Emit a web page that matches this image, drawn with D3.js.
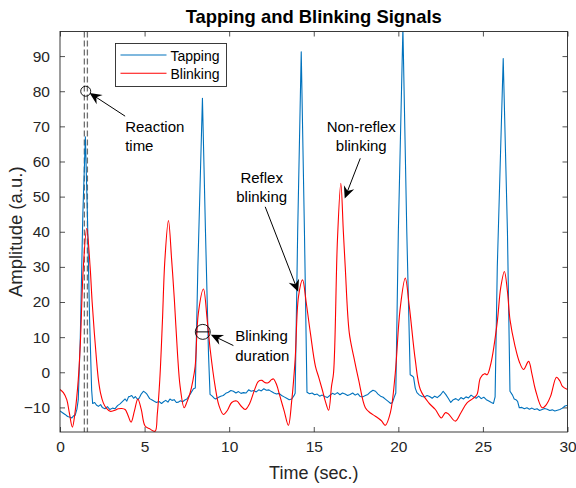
<!DOCTYPE html>
<html>
<head>
<meta charset="utf-8">
<script src="https://d3js.org/d3.v7.min.js"></script>
<style>
  body { margin: 0; background: #fff; }
  text { font-family: "Liberation Sans", Arial, Helvetica, sans-serif; }
</style>
</head>
<body>
<svg id="chart" width="576" height="488"></svg>
<script>
// Tapping signal (time in sec, amplitude in a.u.)
const tapping = [
  [0.0,-11.0],[0.15,-11.5],[0.3,-12.0],[0.45,-12.6],[0.6,-12.8],[0.7,-13.0],[0.8,-12.4],[0.9,-12.2],
  [1.0,-10.5],[1.08,-7.8],[1.2,10],[1.35,45],[1.5,67],[1.62,45],[1.75,15],[1.87,-5],[1.93,-8.9],
  [2.05,-8.6],[2.15,-9.3],[2.27,-9.7],[2.4,-9.2],[2.5,-10.0],[2.66,-10.4],[2.8,-9.8],[2.95,-10.6],
  [3.1,-10.2],[3.25,-10.4],[3.4,-9.5],[3.55,-9.0],[3.7,-8.3],[3.85,-7.6],[3.95,-8.2],[4.05,-7.0],
  [4.15,-6.8],[4.24,-6.6],[4.35,-7.4],[4.45,-6.9],[4.6,-7.8],[4.7,-7.2],[4.8,-6.2],[4.93,-5.4],
  [5.05,-5.8],[5.15,-6.3],[5.3,-7.5],[5.42,-7.8],[5.55,-8.2],[5.7,-8.6],[5.85,-8.3],[6.0,-8.9],
  [6.12,-8.4],[6.25,-8.0],[6.38,-8.5],[6.5,-7.6],[6.62,-8.0],[6.75,-7.8],[6.88,-8.6],[7.0,-8.5],
  [7.12,-8.1],[7.25,-8.4],[7.38,-7.9],[7.5,-7.6],[7.62,-6.8],[7.75,-5.8],[7.89,-4.7],[8.0,-4.5],
  [8.15,30],[8.42,78],[8.6,40],[8.78,5],[8.87,-6.3],[9.0,-6.8],[9.1,-7.3],[9.2,-7.6],[9.35,-7.2],
  [9.5,-6.8],[9.65,-6.6],[9.8,-6.0],[9.95,-5.7],[10.1,-5.2],[10.25,-5.4],[10.4,-5.9],[10.55,-5.5],
  [10.7,-6.0],[10.85,-5.8],[11.0,-5.9],[11.15,-5.0],[11.3,-5.4],[11.45,-5.2],[11.6,-5.6],[11.75,-5.0],
  [11.9,-5.3],[12.05,-4.7],[12.2,-5.1],[12.35,-5.0],[12.5,-5.5],[12.65,-5.9],[12.8,-6.2],[12.95,-6.0],
  [13.1,-6.6],[13.25,-7.0],[13.4,-7.4],[13.55,-7.8],[13.7,-7.6],[13.85,-6.5],[13.9,-6.0],[14.05,40],
  [14.26,91.2],[14.45,40],[14.6,-5.7],[14.75,-6.1],[14.9,-5.9],[15.05,-6.4],[15.2,-6.2],[15.35,-6.8],
  [15.5,-6.5],[15.65,-6.9],[15.8,-7.2],[15.95,-6.6],[16.1,-6.0],[16.25,-6.3],[16.4,-5.8],[16.55,-6.4],
  [16.7,-5.9],[16.85,-6.2],[17.0,-6.6],[17.15,-6.3],[17.3,-5.9],[17.45,-6.5],[17.6,-6.1],[17.75,-6.9],
  [17.9,-7.0],[18.05,-6.6],[18.2,-6.3],[18.35,-5.6],[18.5,-5.1],[18.65,-5.4],[18.8,-6.2],[18.95,-6.8],
  [19.1,-7.1],[19.25,-7.7],[19.4,-8.3],[19.55,-8.9],[19.65,-8.6],[19.75,-7.2],[19.85,-5.9],[20.0,40],
  [20.27,98],[20.5,40],[20.7,-0.7],[20.8,-1.0],[20.9,-1.4],[21.0,-4.5],[21.1,-5.8],[21.25,-6.5],
  [21.4,-6.9],[21.55,-7.0],[21.7,-6.6],[21.85,-6.9],[22.0,-7.4],[22.15,-6.8],[22.3,-7.2],[22.5,-6.4],
  [22.65,-5.4],[22.8,-6.3],[22.95,-7.4],[23.1,-8.6],[23.25,-7.8],[23.4,-7.5],[23.55,-8.0],[23.7,-7.2],
  [23.85,-7.6],[24.0,-7.0],[24.15,-7.3],[24.3,-6.5],[24.45,-7.0],[24.6,-7.4],[24.75,-6.8],[24.9,-7.5],
  [25.05,-7.1],[25.2,-7.8],[25.35,-8.2],[25.5,-8.6],[25.62,-8.9],[25.72,-7.0],[25.85,30],[26.2,89.3],
  [26.45,40],[26.6,-5.4],[26.75,-6.5],[26.85,-7.6],[26.95,-7.8],[27.05,-8.3],[27.15,-10.1],[27.3,-10.0],
  [27.45,-10.4],[27.6,-10.1],[27.75,-10.5],[27.9,-10.2],[28.05,-10.6],[28.2,-10.4],[28.35,-10.9],
  [28.5,-10.6],[28.65,-10.3],[28.8,-10.5],[28.95,-10.9],[29.1,-10.7],[29.25,-11.0],[29.4,-10.8],
  [29.55,-10.6],[29.7,-10.2],[29.85,-9.6],[30.0,-9.4]
];

// Blinking signal
const blinking = [
  [0.0,-4.9],[0.2,-5.8],[0.4,-7.8],[0.55,-11.5],[0.73,-15.6],[0.9,-11],[1.08,-2.1],[1.2,8],[1.38,30],
  [1.58,41],[1.78,30],[1.9,20],[2.03,11.2],[2.15,4],[2.27,-2.1],[2.4,-6],[2.56,-8.7],[2.75,-10.3],
  [2.96,-11.1],[3.2,-10.9],[3.45,-10.4],[3.65,-10.3],[3.85,-10.6],[4.0,-12],[4.2,-14.2],[4.4,-11],
  [4.6,-7.6],[4.8,-10.5],[5.03,-15.3],[5.3,-16.1],[5.62,-16.8],[5.75,-12],[5.9,-2],[6.05,14],[6.2,32],
  [6.41,43.2],[6.6,32],[6.76,20.7],[6.95,5],[7.1,-4],[7.34,-10.1],[7.5,-8.5],[7.69,-5.9],[7.85,-2.5],
  [7.99,1.7],[8.18,16.9],[8.48,23.7],[8.7,15],[8.88,6.4],[9.17,-4],[9.4,-9.5],[9.66,-12],[9.9,-10.8],
  [10.15,-8.6],[10.45,-8.2],[10.7,-9.6],[10.95,-10.6],[11.2,-9],[11.5,-5],[11.73,-2.6],[11.93,-2.3],
  [12.1,-2.9],[12.3,-3.0],[12.5,-2.1],[12.62,-1.9],[12.8,-3.5],[13.0,-6.8],[13.25,-11],[13.5,-15.1],
  [13.7,-8],[13.9,3.6],[14.1,21.6],[14.34,26.3],[14.55,20],[14.8,11.2],[15.1,1.7],[15.3,-1.5],
  [15.5,-4.9],[15.7,-8.5],[15.88,-10.8],[16.05,-4],[16.17,-0.2],[16.4,37.6],[16.6,53.8],[16.75,40],
  [16.86,30.1],[17.1,11.2],[17.36,4.5],[17.65,-2.1],[18.05,-10.1],[18.35,-11.6],[18.64,-12.5],
  [19.0,-13.8],[19.23,-15.1],[19.53,-11.5],[19.82,-0.2],[20.1,17.8],[20.41,26.8],[20.65,18.7],
  [21.0,3.6],[21.3,-4.9],[21.8,-8.7],[22.19,-10.6],[22.54,-13],[22.78,-11.5],[22.95,-11.8],
  [23.37,-13.9],[23.7,-11.5],[24.06,-8.7],[24.4,-7.5],[24.65,-6.3],[24.85,-1.6],[25.1,-0.4],
  [25.25,-0.7],[25.48,2.7],[25.84,14],[26.05,24],[26.27,28.7],[26.45,23],[26.6,15],[26.9,7.4],
  [27.15,3],[27.4,0.8],[27.7,3.1],[27.9,-0.5],[28.1,-4.9],[28.5,-10.1],[28.75,-9.2],[29.0,-6.8],
  [29.35,-1.4],[29.55,-2.5],[29.7,-4.0],[30.0,-4.9]
];

const xTicks = [0, 5, 10, 15, 20, 25, 30];
const yTicks = [-10, 0, 10, 20, 30, 40, 50, 60, 70, 80, 90];
const seriesNames = ["Tapping", "Blinking"];

// reaction-time markers (sec)
const reactionLines = [1.44, 1.62];

// annotations: text lines, text anchor point, arrow tail -> tip (data units)
const notes = [
  { lines: ["Reaction", "time"], at: [3.85, 68.5], anchor: "start", tail: [3.85, 72.9], tip: [1.75, 79.5] },
  { lines: ["Reflex", "blinking"], at: [11.92, 53.9], anchor: "middle", tail: [12.13, 47.1], tip: [14.08, 22.9] },
  { lines: ["Non-reflex", "blinking"], at: [17.81, 68.5], anchor: "middle", tail: [17.75, 60.9], tip: [16.83, 49.5] },
  { lines: ["Blinking", "duration"], at: [10.36, 8.8], anchor: "start", tail: [10.25, 7.6], tip: [8.92, 10.7] }
];
const reactionCircle = [1.52, 80];
const durationCircle = [8.44, 11.5];
const durationSpan = [8.05, 8.85];

const svg = d3.select("#chart");
const W = 576, H = 488;
const pad = { left: 60, right: 567.5, top: 31.5, bottom: 432 };

const x = d3.scaleLinear().domain([0, 30]).range([pad.left, pad.right]);
const y = d3.scaleLinear().domain([-17, 97]).range([pad.bottom, pad.top]);

const axisColor = "#262626";
const blue = "#0072BD", red = "#FF0000";

svg.append("rect").attr("width", W).attr("height", H).attr("fill", "#fff");

svg.append("defs").append("clipPath").attr("id", "plot-clip")
  .append("rect").attr("x", pad.left).attr("y", pad.top)
  .attr("width", pad.right - pad.left).attr("height", pad.bottom - pad.top);

// axes with inward ticks
const xAxisB = d3.axisBottom(x).tickValues(xTicks).tickSize(-5).tickPadding(9);
const xAxisT = d3.axisTop(x).tickValues(xTicks).tickSize(-5).tickFormat("");
const yAxisL = d3.axisLeft(y).tickValues(yTicks).tickSize(-5).tickPadding(10);
const yAxisR = d3.axisRight(y).tickValues(yTicks).tickSize(-5).tickFormat("");

function styleAxis(g) {
  g.select(".domain").remove();
  g.selectAll(".tick line").attr("stroke", axisColor).attr("stroke-width", 0.8);
  g.selectAll(".tick text").attr("fill", axisColor).style("font-size", "15.5px")
    .style("font-family", "'Liberation Sans', Arial, sans-serif");
}

svg.append("g").attr("transform", `translate(0,${pad.bottom})`).call(xAxisB).call(styleAxis);
svg.append("g").attr("transform", `translate(0,${pad.top})`).call(xAxisT).call(styleAxis);
svg.append("g").attr("transform", `translate(${pad.left},0)`).call(yAxisL).call(styleAxis);
svg.append("g").attr("transform", `translate(${pad.right},0)`).call(yAxisR).call(styleAxis);

const plot = svg.append("g").attr("clip-path", "url(#plot-clip)");

// reaction time dashed lines
plot.selectAll(".react")
  .data(reactionLines)
  .enter().append("line")
  .attr("x1", d => x(d)).attr("x2", d => x(d))
  .attr("y1", pad.top).attr("y2", pad.bottom)
  .attr("stroke", "#707070").attr("stroke-width", 1.3)
  .attr("stroke-dasharray", "6,3");

const lineTap = d3.line().x(d => x(d[0])).y(d => y(d[1]));
const lineBlink = d3.line().x(d => x(d[0])).y(d => y(d[1])).curve(d3.curveCatmullRom.alpha(0.5));

plot.append("path").datum(tapping)
  .attr("fill", "none").attr("stroke", blue).attr("stroke-width", 1.1)
  .attr("stroke-linejoin", "round").attr("d", lineTap);

plot.append("path").datum(blinking)
  .attr("fill", "none").attr("stroke", red).attr("stroke-width", 1.1)
  .attr("d", lineBlink);

// box
svg.append("rect")
  .attr("x", pad.left).attr("y", pad.top)
  .attr("width", pad.right - pad.left).attr("height", pad.bottom - pad.top)
  .attr("fill", "none").attr("stroke", axisColor).attr("stroke-width", 0.9);

// circles
svg.append("circle")
  .attr("cx", x(reactionCircle[0])).attr("cy", y(reactionCircle[1])).attr("r", 5)
  .attr("fill", "none").attr("stroke", "#000").attr("stroke-width", 0.9);

svg.append("circle")
  .attr("cx", x(durationCircle[0])).attr("cy", y(durationCircle[1])).attr("r", 7.5)
  .attr("fill", "none").attr("stroke", "#000").attr("stroke-width", 0.9);

svg.append("line")
  .attr("x1", x(durationSpan[0])).attr("x2", x(durationSpan[1]))
  .attr("y1", y(durationCircle[1])).attr("y2", y(durationCircle[1]))
  .attr("stroke", "#000").attr("stroke-width", 1);

// arrows (notched head like matlab's annotation arrow)
function arrowHead(x1, y1, x2, y2) {
  const len = Math.hypot(x2 - x1, y2 - y1);
  const ux = (x2 - x1) / len, uy = (y2 - y1) / len;
  const nx = -uy, ny = ux;
  const L = 12, hw = 5.5, notch = 4;
  const bx = x2 - L * ux, by = y2 - L * uy;
  return `M${x2},${y2}L${bx + hw * nx},${by + hw * ny}L${x2 - (L - notch) * ux},${y2 - (L - notch) * uy}` +
    `L${bx - hw * nx},${by - hw * ny}Z`;
}

notes.forEach(n => {
  const x1 = x(n.tail[0]), y1 = y(n.tail[1]);
  const x2 = x(n.tip[0]), y2 = y(n.tip[1]);
  const len = Math.hypot(x2 - x1, y2 - y1);
  svg.append("line")
    .attr("x1", x1).attr("y1", y1)
    .attr("x2", x2 - (x2 - x1) * 6 / len).attr("y2", y2 - (y2 - y1) * 6 / len)
    .attr("stroke", "#000").attr("stroke-width", 1);
  svg.append("path").attr("d", arrowHead(x1, y1, x2, y2)).attr("fill", "#000");

  const t = svg.append("text")
    .attr("x", x(n.at[0])).attr("y", y(n.at[1]))
    .attr("text-anchor", n.anchor)
    .style("font-size", "15px").attr("fill", "#000");
  n.lines.forEach((s, i) => {
    t.append("tspan").attr("x", x(n.at[0])).attr("dy", i === 0 ? 0 : "1.3em").text(s);
  });
});

// legend
const legend = svg.append("g").attr("transform", "translate(115.5,43.5)");
legend.append("rect").attr("width", 111).attr("height", 43)
  .attr("fill", "#fff").attr("stroke", axisColor).attr("stroke-width", 0.9);
seriesNames.forEach((name, i) => {
  const ly = 11.5 + i * 18.3;
  legend.append("line").attr("x1", 5).attr("x2", 51).attr("y1", ly).attr("y2", ly)
    .attr("stroke", i === 0 ? blue : red).attr("stroke-width", 1.1);
  legend.append("text").attr("x", 55).attr("y", ly + 5.5)
    .style("font-size", "14px").attr("fill", "#000").text(name);
});

// title and labels
svg.append("text")
  .attr("x", (pad.left + pad.right) / 2).attr("y", 22.5)
  .attr("text-anchor", "middle")
  .style("font-size", "18.4px").style("font-weight", "bold").attr("fill", "#000")
  .text("Tapping and Blinking Signals");

svg.append("text")
  .attr("x", (pad.left + pad.right) / 2).attr("y", 479)
  .attr("text-anchor", "middle")
  .style("font-size", "18px").attr("fill", axisColor)
  .text("Time (sec.)");

svg.append("text")
  .attr("transform", `translate(22,${(pad.top + pad.bottom) / 2}) rotate(-90)`)
  .attr("text-anchor", "middle")
  .style("font-size", "18.5px").attr("fill", axisColor)
  .text("Amplitude (a.u.)");
</script>
</body>
</html>
